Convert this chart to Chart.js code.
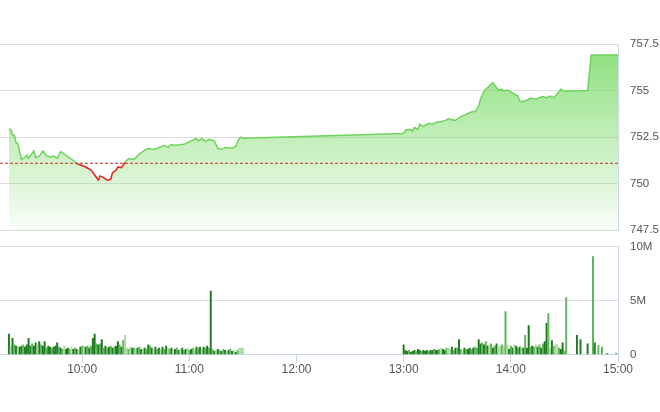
<!DOCTYPE html>
<html>
<head>
<meta charset="utf-8">
<script src="https://cdn.jsdelivr.net/npm/chart.js@4"></script>
<style>
  html, body { margin: 0; padding: 0; background: #fff; }
  #wrap { position: relative; width: 660px; height: 412px; }
  .pane { position: absolute; left: 0; width: 660px; }
</style>
</head>
<body>
<div id="wrap">
  <div class="pane" style="top:0;height:249px"><canvas id="priceChart"></canvas></div>
  <div class="pane" style="top:228px;height:184px"><canvas id="volChart"></canvas></div>
</div>
<script>
// Truc thoi gian (phut trong ngay)
const axisStart = '9:14';
const axisEnd = '15:00';
const hourTicks = ['10:00', '11:00', '12:00', '13:00', '14:00', '15:00'];
const priceTicks = [747.5, 750, 752.5, 755, 757.5];
const volTicks = [0, 5, 10];
const refPrice = 751.09;

// Gia chi so
const priceTimes = [
  '9:19', '9:20', '9:21', '9:22', '9:23', '9:24', '9:26', '9:28', '9:29', '9:30',
  '9:33', '9:34', '9:36', '9:38', '9:40', '9:42', '9:44', '9:46', '9:48', '9:50',
  '9:52', '9:54', '9:57', '9:59', '10:02', '10:05', '10:07', '10:09', '10:10', '10:12',
  '10:14', '10:16', '10:17', '10:19', '10:20', '10:22', '10:24', '10:25', '10:26', '10:29',
  '10:32', '10:35', '10:37', '10:40', '10:43', '10:46', '10:48', '10:50', '10:51', '10:54',
  '10:57', '10:59', '11:01', '11:04', '11:05', '11:07', '11:09', '11:11', '11:14', '11:16',
  '11:18', '11:20', '11:24', '11:26', '11:28', '11:29', '11:30',
  '13:00', '13:01', '13:03', '13:05', '13:06', '13:08', '13:09', '13:11', '13:13', '13:14',
  '13:16', '13:18', '13:21', '13:24', '13:25', '13:28', '13:29', '13:32', '13:35', '13:37',
  '13:39', '13:40', '13:42', '13:43', '13:45', '13:47', '13:50', '13:51', '13:53', '13:55',
  '13:56', '13:58', '14:00', '14:02', '14:04', '14:05', '14:07', '14:09', '14:11', '14:14',
  '14:16', '14:18', '14:20', '14:22', '14:24', '14:25', '14:27', '14:28', '14:30', '14:31',
  '14:43', '14:45', '15:00'
];
const priceValues = [
  752.92, 752.92, 752.61, 752.61, 752.20, 752.15, 751.29, 751.40, 751.54, 751.36,
  751.75, 751.40, 751.47, 751.75, 751.50, 751.43, 751.48, 751.36, 751.72, 751.58,
  751.43, 751.32, 751.07, 751.00, 750.89, 750.72, 750.46, 750.19, 750.41, 750.32,
  750.18, 750.23, 750.59, 750.72, 750.89, 750.86, 751.13, 751.25, 751.34, 751.30,
  751.58, 751.79, 751.88, 751.83, 751.94, 752.06, 751.94, 752.11, 752.06, 752.08,
  752.11, 752.20, 752.29, 752.42, 752.29, 752.42, 752.26, 752.38, 752.29, 751.88,
  751.84, 751.94, 751.90, 752.02, 752.44, 752.50, 752.44,
  752.69, 752.87, 752.92, 752.83, 753.01, 752.92, 753.19, 753.06, 753.19, 753.24,
  753.19, 753.28, 753.33, 753.42, 753.49, 753.40, 753.40, 753.60, 753.72, 753.82,
  753.87, 753.87, 754.17, 754.53, 754.98, 755.16, 755.43, 755.28, 755.03, 755.07,
  754.98, 755.03, 754.93, 754.80, 754.71, 754.44, 754.41, 754.48, 754.59, 754.53,
  754.62, 754.68, 754.62, 754.70, 754.62, 754.71, 754.95, 755.07, 754.95, 754.98,
  755.00, 756.91, 756.91
];

// Khoi luong (trieu), moi phut mot cot
const volAmStart = '9:19';
const volAm = [
  1.9, 0.8, 1.5, 0.9, 0.8, 0.8, 0.7, 0.8, 0.9, 0.7,
  0.9, 1.5, 0.8, 1.0, 0.8, 1.1, 0.9, 1.2, 0.9, 0.8,
  1.2, 0.6, 0.8, 0.7, 0.6, 0.7, 0.8, 1.1, 0.7, 0.6,
  0.5, 0.8, 0.5, 0.6, 0.5, 0.7, 0.5, 0.6, 0.5, 0.4,
  0.7, 0.8, 0.8, 0.7, 0.8, 0.6, 0.8, 1.5, 1.9, 1.0,
  0.9, 1.0, 1.4, 0.6, 0.8, 0.6, 0.7, 0.8, 0.6, 0.7,
  0.8, 1.2, 0.9, 0.7, 1.3, 1.8, 0.6, 0.5, 0.7, 0.6,
  0.6, 0.5, 0.6, 0.7, 0.5, 0.5, 0.6, 0.5, 0.9, 0.8,
  0.6, 0.5, 0.7, 0.5, 0.6, 0.5, 0.7, 0.5, 0.8, 0.6,
  0.5, 0.6, 0.4, 0.5, 0.6, 0.4, 0.5, 0.6, 0.4, 0.5,
  0.6, 0.4, 0.5, 0.6, 0.5, 0.7, 0.6, 0.7, 0.5, 0.7,
  0.6, 0.8, 0.6, 5.9, 0.5, 0.3, 0.4, 0.5, 0.4, 0.3,
  0.5, 0.4, 0.3, 0.4, 0.5, 0.3, 0.4, 0.2, 0.4, 0.6,
  0.6, 0.6
];
const volAmSide =
  'dldmdlddmd' + 'dddmddldmd' + 'dmddmdddmd' + 'mlddmldmdl' + 'dmldmdmddm' +
  'dmdmdmdmdm' + 'ddmdmllmld' + 'mldmdldmdm' + 'dldmdldmdl' + 'mdldmdldmd' +
  'lmdmldmdld' + 'mdmdmdldmd' + 'mdldmdldml' + 'll';

const volPmStart = '13:00';
const volPm = [
  0.9, 0.4, 0.3, 0.4, 0.2, 0.3, 0.4, 0.3, 0.5, 0.4,
  0.3, 0.4, 0.3, 0.4, 0.3, 0.4, 0.4, 0.5, 0.4, 0.4,
  0.5, 0.6, 0.5, 0.4, 0.6, 0.6, 0.5, 0.7, 0.4, 0.6,
  0.6, 1.4, 0.5, 0.4, 0.6, 0.5, 0.5, 0.6, 0.5, 0.6,
  0.7, 0.6, 1.4, 1.0, 1.1, 0.9, 1.2, 0.8, 0.9, 1.0,
  0.6, 0.8, 1.0, 0.7, 0.8, 0.9, 0.8, 4.0, 0.9, 0.5,
  0.8, 0.6, 0.9, 0.8, 0.6, 0.7, 0.6, 0.6, 1.8, 0.6,
  2.7, 0.7, 0.8, 0.7, 0.9, 0.7, 0.9, 0.6, 1.0, 1.2,
  2.9, 3.8, 0.6, 1.3, 0.8, 1.0, 0.9, 0.6, 0.5, 1.1,
  0.3, 5.3
];
const volPmSide =
  'dddmdddmdd' + 'mdddmddmdd' + 'mlddmlldmd' + 'mdmldmddmd' + 'mmddmdmdlm' +
  'dmdllmlmld' + 'mdldmdldmd' + 'dmdmldmdmd' + 'dmldmllmdd' + 'mm';

const volLateTimes = ['14:37', '14:39', '14:43', '14:46', '14:47', '14:49', '14:51', '14:54', '14:59'];
const volLate = [1.8, 1.4, 1.0, 9.1, 1.1, 0.85, 0.7, 0.1, 0.15];
const volLateSide = 'dddmdmmdm';

const sideColors = { d: '#1f7a1f', m: '#5fb55a', l: '#abdca4' };

function toMin(s) {
  const [h, m] = s.split(':').map(Number);
  return h * 60 + m;
}
function fmtMin(v) {
  const h = Math.floor(v / 60);
  const m = v % 60;
  return h + ':' + String(m).padStart(2, '0');
}

const xMin = toMin(axisStart);
const xMax = toMin(axisEnd);
const hourVals = hourTicks.map(toMin);

Chart.defaults.font.family = 'Arial, "Liberation Sans", sans-serif';
Chart.defaults.font.size = 11.5;
Chart.defaults.color = '#555';
const narrowFont = { family: '"Liberation Sans Narrow", "Arial Narrow", Arial, sans-serif', size: 12 };

// Bieu do gia
const pricePoints = priceTimes.map((t, i) => ({ x: toMin(t), y: priceValues[i] }));

new Chart(document.getElementById('priceChart'), {
  type: 'line',
  data: {
    datasets: [
      // vung to mau (rieng, de khong bi vet noi giua cac doan)
      {
        data: pricePoints,
        borderWidth: 0,
        pointRadius: 0,
        tension: 0,
        fill: 'start',
        backgroundColor: (ctx) => {
          const area = ctx.chart.chartArea;
          if (!area) return 'rgba(110,215,90,0.3)';
          const g = ctx.chart.ctx.createLinearGradient(0, area.top, 0, area.bottom);
          g.addColorStop(0, 'rgba(110,215,90,0.8)');
          g.addColorStop(1, 'rgba(110,215,90,0.04)');
          return g;
        }
      },
      // duong gia: xanh tren tham chieu, do duoi tham chieu
      {
        data: pricePoints,
        borderColor: '#6fd35c',
        borderWidth: 1.5,
        pointRadius: 0,
        tension: 0,
        fill: false,
        segment: {
          borderColor: c => (c.p0.parsed.y + c.p1.parsed.y) / 2 < refPrice ? '#e3241b' : undefined
        }
      },
      {
        data: [{ x: xMin, y: refPrice }, { x: xMax, y: refPrice }],
        borderColor: '#c62a1e',
        borderWidth: 1,
        borderDash: [3, 2],
        pointRadius: 0,
        fill: false,
        order: -1
      }
    ]
  },
  options: {
    responsive: true,
    maintainAspectRatio: false,
    animation: false,
    layout: { padding: { top: 44, bottom: 10, left: 0, right: 0 } },
    plugins: {
      legend: { display: false },
      tooltip: { enabled: false },
      filler: { drawTime: 'beforeDatasetsDraw' }
    },
    scales: {
      x: { type: 'linear', min: xMin, max: xMax, display: false },
      y: {
        position: 'right',
        min: priceTicks[0],
        max: priceTicks[priceTicks.length - 1],
        afterBuildTicks: s => { s.ticks = priceTicks.map(v => ({ value: v })); },
        afterFit: s => { s.width = 42; },
        grid: { color: '#dedede', drawTicks: false },
        border: { color: '#ccd6eb' },
        ticks: { padding: 12, color: '#555', callback: v => String(v) }
      }
    }
  }
});

// Bieu do khoi luong
const volPoints = [];
const volColors = [];
volAm.forEach((v, i) => {
  volPoints.push({ x: toMin(volAmStart) + i, y: v });
  volColors.push(sideColors[volAmSide[i]]);
});
volPm.forEach((v, i) => {
  volPoints.push({ x: toMin(volPmStart) + i, y: v });
  volColors.push(sideColors[volPmSide[i]]);
});
volLate.forEach((v, i) => {
  volPoints.push({ x: toMin(volLateTimes[i]), y: v });
  volColors.push(sideColors[volLateSide[i]]);
});

new Chart(document.getElementById('volChart'), {
  type: 'bar',
  data: {
    datasets: [{
      data: volPoints,
      backgroundColor: volColors,
      borderWidth: 0,
      barThickness: 1.3
    }]
  },
  options: {
    responsive: true,
    maintainAspectRatio: false,
    animation: false,
    layout: { padding: { top: 10, bottom: 35, left: 0, right: 0 } },
    plugins: { legend: { display: false }, tooltip: { enabled: false } },
    scales: {
      x: {
        type: 'linear',
        min: xMin,
        max: xMax,
        offset: false,
        afterBuildTicks: s => { s.ticks = hourVals.map(v => ({ value: v })); },
        grid: { drawOnChartArea: false, drawTicks: true, tickLength: 8, color: '#ccd6eb', offset: false },
        border: { color: '#ccd6eb' },
        ticks: { padding: 0, color: '#555', font: narrowFont, maxRotation: 0, autoSkip: false, callback: v => fmtMin(v) }
      },
      y: {
        position: 'right',
        min: volTicks[0],
        max: volTicks[volTicks.length - 1],
        afterBuildTicks: s => { s.ticks = volTicks.map(v => ({ value: v })); },
        afterFit: s => { s.width = 42; },
        grid: { color: c => c.tick.value === 0 ? '#ccd6eb' : '#dedede', drawTicks: false },
        border: { color: '#ccd6eb' },
        ticks: { padding: 12, color: '#555', callback: v => v === 0 ? '0' : v + 'M' }
      }
    }
  }
});
</script>
</body>
</html>
